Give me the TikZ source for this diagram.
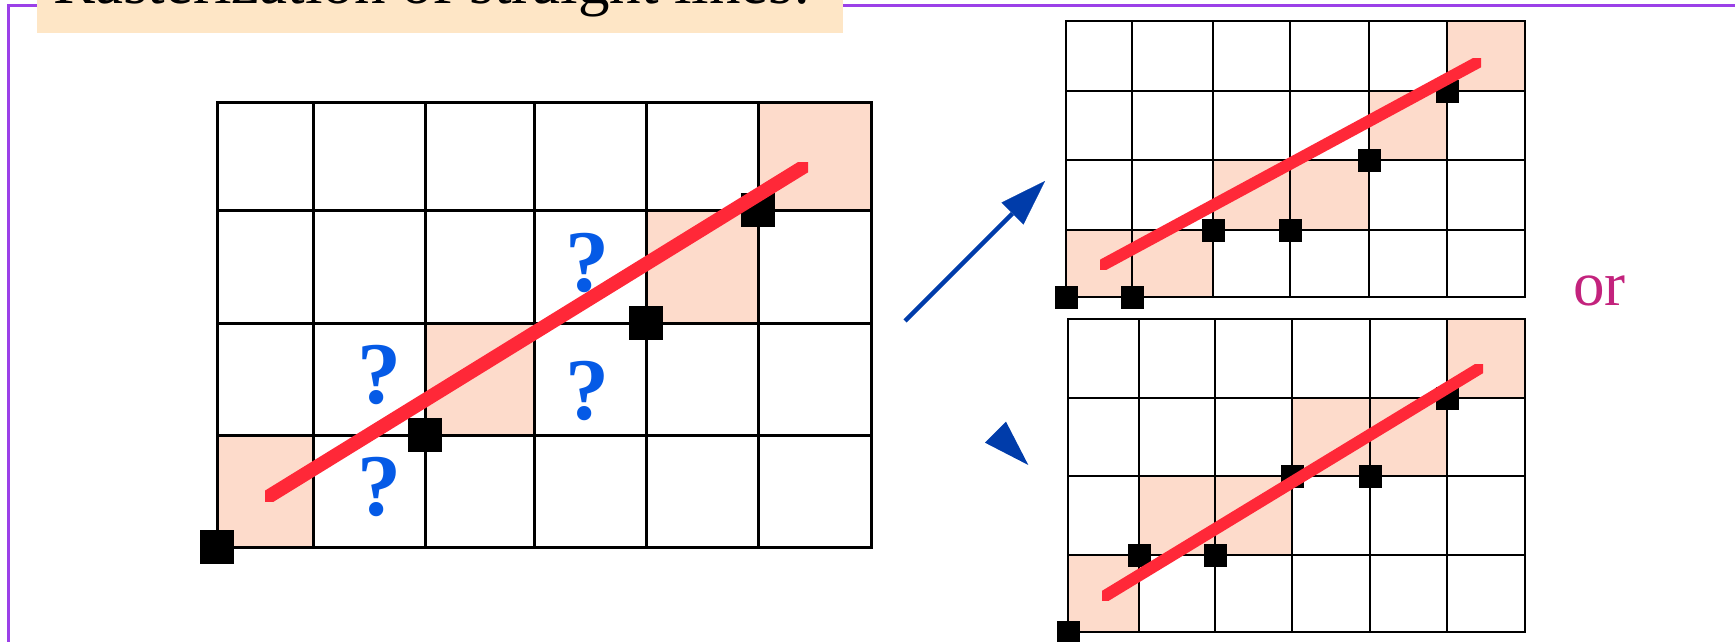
\documentclass[tikz,border=0pt]{standalone}
\usepackage{fontspec}
\setmainfont{Liberation Serif}
\usetikzlibrary{arrows.meta,calc}
\definecolor{peach}{HTML}{FDDBCB}
\definecolor{redl}{HTML}{FF2838}
\definecolor{qblue}{HTML}{055AE6}
\definecolor{ablue}{HTML}{003CAA}
\definecolor{framecol}{HTML}{9B40E8}
\definecolor{titlebg}{HTML}{FEE6C6}
\definecolor{orcol}{HTML}{C3237D}
\begin{document}
\begin{tikzpicture}[x=1pt,y=-1pt,
  gridbig/.style={line width=3.0pt,black},
  gridsmall/.style={line width=2.6pt,black},
  cellfill/.style={fill=peach},
  bigsq/.style={fill=black,draw=none,inner sep=0pt,minimum size=34pt},
  smallsq/.style={fill=black,draw=none,inner sep=0pt,minimum size=23pt},
  redln/.style={draw=redl,line width=#1,line cap=butt},
  qmark/.style={text=qblue,font=\fontsize{88}{88}\selectfont\bfseries,inner sep=0pt,anchor=base},
  bluearr/.style={draw=ablue,line width=4.5pt,-{Triangle[length=46pt,width=31pt,line width=0.1pt]}},
  framestyle/.style={draw=framecol,line width=2.5pt},
]
\useasboundingbox (0,0) rectangle (1735,641);
\clip (0,0) rectangle (1735,641);

% frame and title
\draw[framestyle] (8.6,700) -- (8.6,5.7) -- (1800,5.7);
\fill[titlebg] (37,-80) rectangle (843,33);
\node[anchor=base west,inner sep=0pt,font=\fontsize{63}{63}\selectfont] (title) at (53,3) {Rasterization of straight lines:};

% ---------------- main grid ----------------
\fill[cellfill] (217,435) rectangle (313,547);
\fill[cellfill] (425,323) rectangle (534,435);
\fill[cellfill] (646,210) rectangle (758,323);
\fill[cellfill] (758,102) rectangle (871,210);
\draw[gridbig] (217,102) rectangle (871,547);
\foreach \x in {313,425,534,646,758} \draw[gridbig] (\x,102) -- (\x,547);
\foreach \y in {210,323,435} \draw[gridbig] (217,\y) -- (871,\y);
\node[bigsq] (m1) at (217,547) {};
\node[bigsq] (m2) at (425,435) {};
\node[bigsq] (m3) at (646,323) {};
\node[bigsq] (m4) at (758,210) {};
\coordinate (mL) at (270.5,495.4);
\coordinate (mR) at (802.5,167.5);
\begin{scope}
  \clip (265,162) rectangle (808,501);
  \draw[redln=14pt] ($(mL)!-16pt!(mR)$) -- ($(mR)!-16pt!(mL)$);
\end{scope}
\node[qmark] (q1) at (587,291) {?};
\node[qmark] (q2) at (379,403) {?};
\node[qmark] (q3) at (587,419) {?};
\node[qmark] (q4) at (379,515) {?};

% ---------------- arrows ----------------
\coordinate (a1s) at (905,321);
\coordinate (a1e) at (1045,181);
\draw[bluearr] (a1s) -- (a1e);
\coordinate (h1) at (1006,421.7);
\coordinate (h2) at (985,442.7);
\coordinate (h3) at (1028.3,465);
\fill[ablue] (h1) -- (h2) -- (h3) -- cycle;

% ---------------- top right grid ----------------
\fill[cellfill] (1066,230) rectangle (1213,297);
\fill[cellfill] (1213,160) rectangle (1369,230);
\fill[cellfill] (1369,91) rectangle (1447,160);
\fill[cellfill] (1447,21) rectangle (1525,91);
\draw[gridsmall] (1066,21) rectangle (1525,297);
\foreach \x in {1132,1213,1290,1369,1447} \draw[gridsmall] (\x,21) -- (\x,297);
\foreach \y in {91,160,230} \draw[gridsmall] (1066,\y) -- (1525,\y);
\node[smallsq] (t1) at (1066,297) {};
\node[smallsq] (t2) at (1132,297) {};
\node[smallsq] (t3) at (1213,230) {};
\node[smallsq] (t4) at (1290,230) {};
\node[smallsq] (t5) at (1369,160) {};
\node[smallsq] (t6) at (1447,91) {};
\coordinate (tL) at (1105.5,263.5);
\coordinate (tR) at (1475.5,63.5);
\begin{scope}
  \clip (1100,58) rectangle (1481,269);
  \draw[redln=12pt] ($(tL)!-16pt!(tR)$) -- ($(tR)!-16pt!(tL)$);
\end{scope}

% ---------------- bottom right grid ----------------
\fill[cellfill] (1447,319) rectangle (1525,398);
\fill[cellfill] (1292,398) rectangle (1447,476);
\fill[cellfill] (1139,476) rectangle (1292,555);
\fill[cellfill] (1068,555) rectangle (1139,632);
\draw[gridsmall] (1068,319) rectangle (1525,632);
\foreach \x in {1139,1215,1292,1370,1447} \draw[gridsmall] (\x,319) -- (\x,632);
\foreach \y in {398,476,555} \draw[gridsmall] (1068,\y) -- (1525,\y);
\node[smallsq] (b1) at (1068,632) {};
\node[smallsq] (b2) at (1139,555) {};
\node[smallsq] (b3) at (1215,555) {};
\node[smallsq] (b4) at (1292,476) {};
\node[smallsq] (b5) at (1370,476) {};
\node[smallsq] (b6) at (1447,398) {};
\coordinate (bL) at (1107.5,594.5);
\coordinate (bR) at (1477.5,369.5);
\begin{scope}
  \clip (1102,364) rectangle (1483,600);
  \draw[redln=12pt] ($(bL)!-16pt!(bR)$) -- ($(bR)!-16pt!(bL)$);
\end{scope}

\node[anchor=base west,inner sep=0pt,text=orcol,font=\fontsize{63}{63}\selectfont] (or) at (1573,305) {or};
\end{tikzpicture}
\end{document}
